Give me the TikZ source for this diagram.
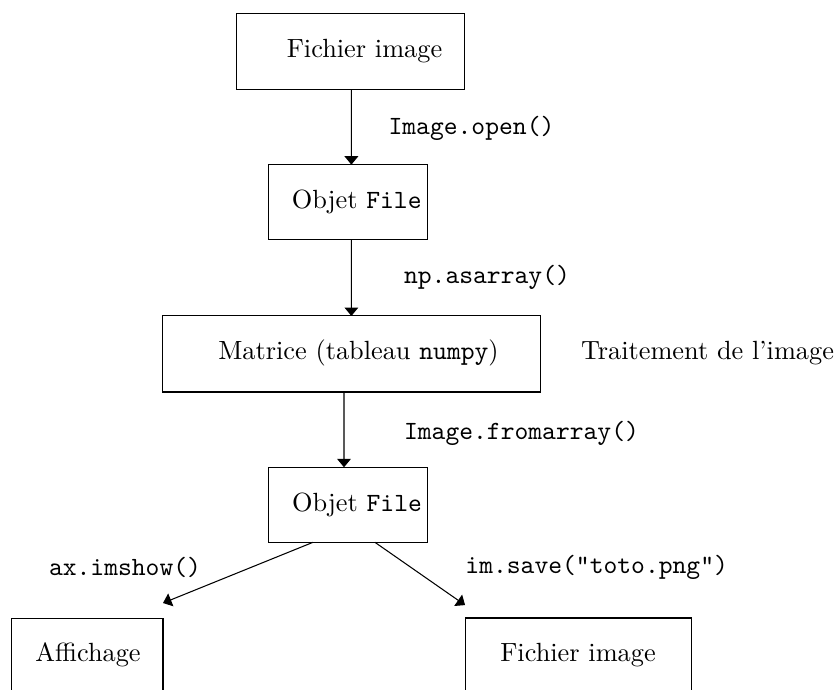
\documentclass[tikz,border=0pt]{standalone}
\usetikzlibrary{arrows.meta}
\begin{document}
\begin{tikzpicture}[x=0.38pt,y=-0.38pt,
  box/.style={draw,line width=0.4pt,inner sep=0pt,outer sep=0pt},
  txt/.style={inner sep=0pt,outer sep=0pt,anchor=center},
  arr/.style={line width=0.4pt,-{Triangle[width=5.2pt,length=3.2pt]}}]
\useasboundingbox (0,0) rectangle (837,690);
\clip (0,0) rectangle (837,690);
% boxes
\node[box,minimum width=87.0pt,minimum height=28.6pt] (b1) at (350.5,51.6) {};
\node[box,minimum width=60.3pt,minimum height=28.6pt] (b2) at (348,202.3) {};
\node[box,minimum width=143.8pt,minimum height=28.9pt] (b3) at (351.4,354) {};
\node[box,minimum width=60.4pt,minimum height=28.5pt] (b4) at (347.8,504.8) {};
\node[box,minimum width=57.5pt,minimum height=28.5pt] (b5) at (87.35,655.8) {};
\node[box,minimum width=86.1pt,minimum height=28.5pt] (b6) at (578.35,655.5) {};
% box texts
\node[txt] (t1) at (364.5,51) {Fichier image};
\node[txt] (t2) at (356.7,202) {Objet \texttt{File}};
\node[txt] (t3) at (358.5,353) {Matrice (tableau \texttt{numpy})};
\node[txt] (t4) at (357,505) {Objet \texttt{File}};
\node[txt] (t5) at (88,655) {Affichage};
\node[txt] (t6) at (578,655) {Fichier image};
\node[txt] (tr) at (707.5,353) {Traitement de l'image};
% labels
\node[txt] (l1) at (471.5,128) {\texttt{Image.open()}};
\node[txt] (l2) at (487,277) {\texttt{np.asarray()}};
\node[txt] (l3) at (521.5,433) {\texttt{Image.fromarray()}};
\node[txt] (l4) at (125,567) {\texttt{ax.imshow()}};
\node[txt] (l5) at (596.7,567) {\texttt{im.save("toto.png")}};
% arrows
\draw[arr] ([xshift=0.34pt]b1.south) -- ([xshift=1.29pt]b2.north);
\draw[arr] ([xshift=1.29pt]b2.south) -- (b3.north);
\draw[arr] ([xshift=-2.81pt]b3.south) -- ([xshift=-1.44pt]b4.north);
\draw[arr] ([xshift=-13.2pt]b4.south) -- ([yshift=5.8pt]b5.north east);
\draw[arr] ([xshift=10.3pt]b4.south) -- ([yshift=4.9pt]b6.north west);
\end{tikzpicture}
\end{document}
